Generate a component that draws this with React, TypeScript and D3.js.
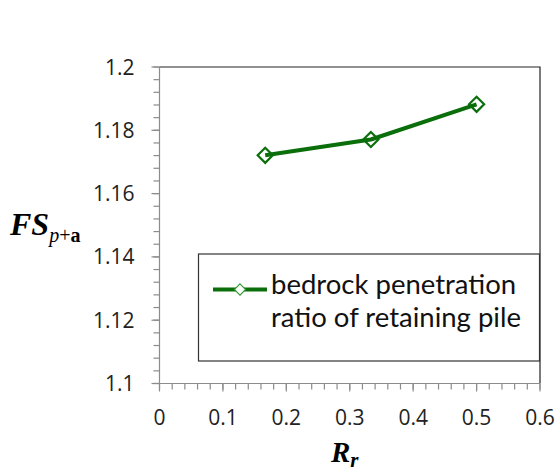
import * as d3 from 'd3';
import { useEffect, useRef } from 'react';

// bedrock penetration ratio of retaining pile
const rrValues = [0.1667, 0.3333, 0.5];
const fsValues = [1.1721, 1.1771, 1.1882];
const xTicks = [0, 0.1, 0.2, 0.3, 0.4, 0.5, 0.6];
const yTicks = [1.1, 1.12, 1.14, 1.16, 1.18, 1.2];
const legendLines = ['bedrock penetration', 'ratio of retaining pile'];

const App = () => {
  const ref = useRef<SVGSVGElement>(null);

  useEffect(() => {
    const width = 557;
    const height = 473;
    const plot = { left: 159.5, right: 540, top: 67, bottom: 383.5 };
    const green = '#0a6e0a';
    const font = '"Open Sans", sans-serif';

    const svg = d3.select(ref.current);
    svg.selectAll('*').remove();
    svg.attr('width', width).attr('height', height);

    svg.append('rect').attr('width', width).attr('height', height).attr('fill', '#fff');

    const x = d3.scaleLinear().domain([0, 0.6]).range([plot.left, plot.right]);
    const y = d3.scaleLinear().domain([1.1, 1.2]).range([plot.bottom, plot.top]);

    // top and right frame
    svg.append('path')
      .attr('d', `M${plot.left},${plot.top}H${plot.right}V${plot.bottom}`)
      .attr('fill', 'none')
      .attr('stroke', '#222')
      .attr('stroke-width', 1.2);

    // minor ticks
    const yMinor = d3.range(0, 26).map(i => 1.1 + i * 0.004);
    const xMinor = d3.range(0, 31).map(i => i * 0.02);

    const yAxis = svg.append('g').attr('stroke', '#8c8c8c').attr('stroke-width', 1.2);
    yAxis.selectAll('line.minor')
      .data(yMinor)
      .enter()
      .append('line')
      .attr('x1', plot.left - 6)
      .attr('x2', plot.left)
      .attr('y1', d => y(d))
      .attr('y2', d => y(d));
    yAxis.selectAll('line.major')
      .data(yTicks)
      .enter()
      .append('line')
      .attr('x1', plot.left - 8)
      .attr('x2', plot.left)
      .attr('y1', d => y(d))
      .attr('y2', d => y(d));
    yAxis.append('line')
      .attr('x1', plot.left).attr('x2', plot.left)
      .attr('y1', plot.top).attr('y2', plot.bottom);

    const xAxis = svg.append('g').attr('stroke', '#8c8c8c').attr('stroke-width', 1.2);
    xAxis.selectAll('line.minor')
      .data(xMinor)
      .enter()
      .append('line')
      .attr('x1', d => x(d))
      .attr('x2', d => x(d))
      .attr('y1', plot.bottom)
      .attr('y2', plot.bottom + 6);
    xAxis.selectAll('line.major')
      .data(xTicks)
      .enter()
      .append('line')
      .attr('x1', d => x(d))
      .attr('x2', d => x(d))
      .attr('y1', plot.bottom)
      .attr('y2', plot.bottom + 8);
    xAxis.append('line')
      .attr('x1', plot.left).attr('x2', plot.right)
      .attr('y1', plot.bottom).attr('y2', plot.bottom);

    // tick labels
    svg.append('g')
      .selectAll('text')
      .data(yTicks)
      .enter()
      .append('text')
      .attr('x', plot.left - 25)
      .attr('y', d => y(d) + 7.5)
      .attr('text-anchor', 'end')
      .attr('font-family', font)
      .attr('font-size', 21)
      .attr('fill', '#222')
      .text(d => d3.format('~g')(d));

    svg.append('g')
      .selectAll('text')
      .data(xTicks)
      .enter()
      .append('text')
      .attr('x', d => x(d))
      .attr('y', 425)
      .attr('text-anchor', 'middle')
      .attr('font-family', font)
      .attr('font-size', 21)
      .attr('fill', '#222')
      .text(d => d3.format('~g')(d));

    // legend box
    const lg = { x: 198.5, y: 254, w: 341, h: 107 };
    svg.append('rect')
      .attr('x', lg.x).attr('y', lg.y)
      .attr('width', lg.w).attr('height', lg.h)
      .attr('fill', '#fff')
      .attr('stroke', '#333')
      .attr('stroke-width', 1.2);

    // series line
    const pts = rrValues.map((r, i) => [r, fsValues[i]] as [number, number]);
    const line = d3.line<[number, number]>().x(d => x(d[0])).y(d => y(d[1]));
    svg.append('path')
      .datum(pts)
      .attr('fill', 'none')
      .attr('stroke', green)
      .attr('stroke-width', 4)
      .attr('stroke-linejoin', 'round')
      .attr('d', line);

    const diamond = d3.symbol().type(d3.symbolDiamond2).size(145);
    svg.append('g')
      .selectAll('path')
      .data(pts)
      .enter()
      .append('path')
      .attr('transform', d => `translate(${x(d[0])},${y(d[1])})`)
      .attr('d', diamond)
      .attr('fill', 'none')
      .attr('stroke', green)
      .attr('stroke-width', 2.2);

    // legend entry
    svg.append('line')
      .attr('x1', 213).attr('x2', 267)
      .attr('y1', 289.5).attr('y2', 289.5)
      .attr('stroke', green)
      .attr('stroke-width', 4);
    svg.append('path')
      .attr('transform', 'translate(240,289.5)')
      .attr('d', d3.symbol().type(d3.symbolDiamond2).size(80))
      .attr('fill', '#fff')
      .attr('stroke', '#2e9a2e')
      .attr('stroke-width', 1.1);
    svg.append('g')
      .selectAll('text')
      .data(legendLines)
      .enter()
      .append('text')
      .attr('x', 271)
      .attr('y', (d, i) => 294 + i * 33.2)
      .attr('font-family', 'Lato, sans-serif')
      .attr('font-size', 27.5)
      .attr('fill', '#111')
      .text(d => d);

    // axis titles
    const yTitle = svg.append('text')
      .attr('x', 10)
      .attr('y', 235)
      .attr('font-family', '"Liberation Serif", serif')
      .attr('fill', '#000');
    yTitle.append('tspan')
      .attr('font-size', 32)
      .attr('font-weight', 'bold')
      .attr('font-style', 'italic')
      .text('FS');
    yTitle.append('tspan')
      .attr('font-size', 20)
      .attr('font-style', 'italic')
      .attr('dy', 7)
      .text('p');
    yTitle.append('tspan')
      .attr('font-size', 20)
      .text('+');
    yTitle.append('tspan')
      .attr('font-size', 20)
      .attr('font-weight', 'bold')
      .text('a');

    const xTitle = svg.append('text')
      .attr('x', 331)
      .attr('y', 462)
      .attr('font-family', '"Liberation Serif", serif')
      .attr('fill', '#000');
    xTitle.append('tspan')
      .attr('font-size', 29)
      .attr('font-weight', 'bold')
      .attr('font-style', 'italic')
      .text('R');
    xTitle.append('tspan')
      .attr('font-size', 21)
      .attr('font-weight', 'bold')
      .attr('font-style', 'italic')
      .attr('dy', 5)
      .text('r');
  }, []);

  return (
    <svg ref={ref} style={{ position: 'absolute', left: 0, top: 0, display: 'block' }}></svg>
  );
};

export default App;
